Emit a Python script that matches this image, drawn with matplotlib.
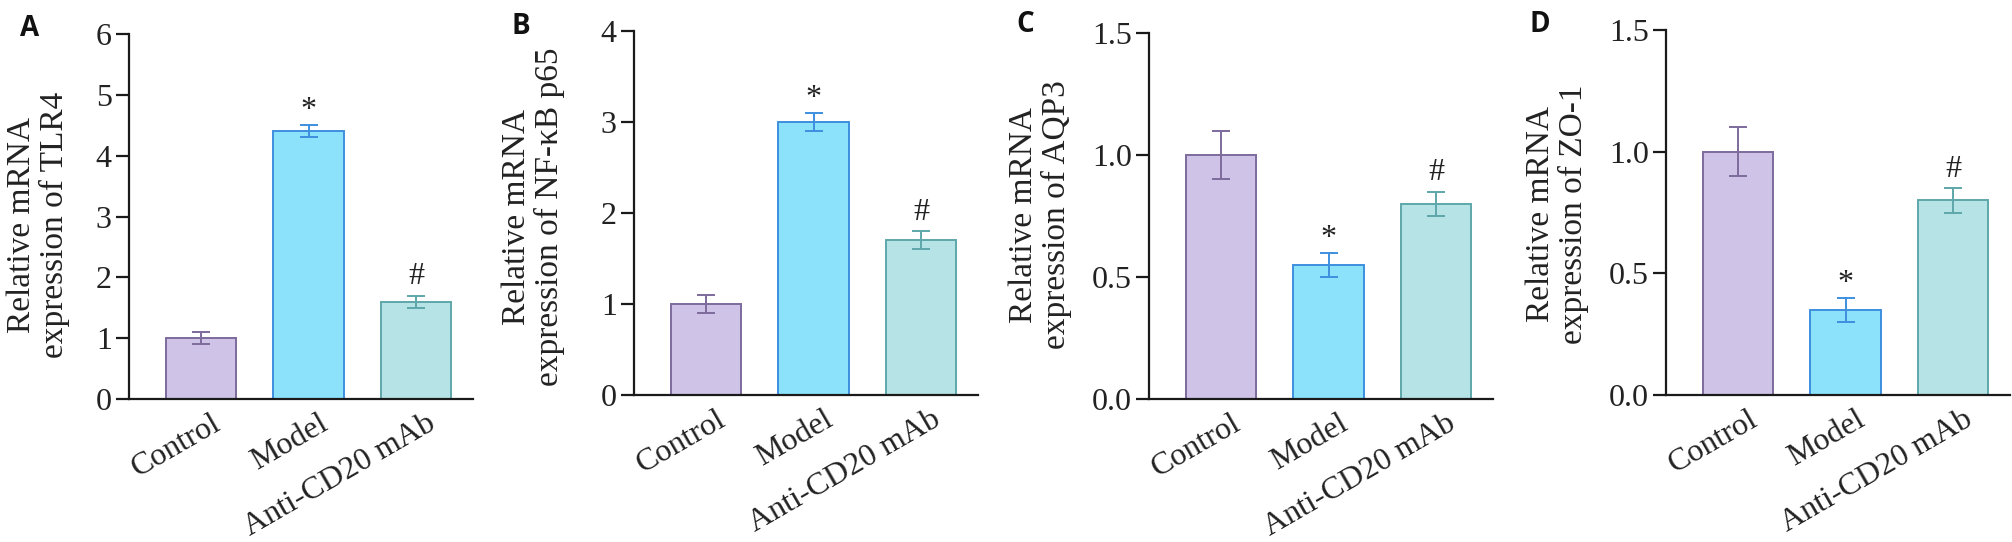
import matplotlib
matplotlib.use("Agg")
import matplotlib.pyplot as plt
from matplotlib.ticker import FormatStrFormatter, MultipleLocator
from matplotlib.transforms import ScaledTranslation

groups = ["Control", "Model", "Anti-CD20 mAb"]

tlr4_mean = [1.0, 4.4, 1.6]
tlr4_err = [0.1, 0.1, 0.1]
nfkb_mean = [1.0, 3.0, 1.7]
nfkb_err = [0.1, 0.1, 0.1]
aqp3_mean = [1.0, 0.55, 0.8]
aqp3_err = [0.1, 0.05, 0.05]
zo1_mean = [1.0, 0.35, 0.8]
zo1_err = [0.1, 0.05, 0.05]

marks = ["", "*", "#"]

fill_cols = ["#cfc4e7", "#8ce1fb", "#b6e3e5"]
edge_cols = ["#7d6b9c", "#3d8fe0", "#5ea7aa"]

W, H = 2012, 542
fig = plt.figure(figsize=(W / 100, H / 100), dpi=100)
plt.rcParams['font.family'] = ['Liberation Serif', 'DejaVu Serif']

# panel: letter, ylabel, means, errs, ymax, step, fmt, axis x px, top px, base px, label centre px, letter px
panels = [
    ("A", "Relative mRNA\nexpression of TLR4", tlr4_mean, tlr4_err, 6, 1, '%d',
     129, 34, 399, (38, 225), (30, 28)),
    ("B", "Relative mRNA\nexpression of NF-\u03baB p65", nfkb_mean, nfkb_err, 4, 1, '%d',
     634, 31, 395, (533, 217), (521, 26)),
    ("C", "Relative mRNA\nexpression of AQP3", aqp3_mean, aqp3_err, 1.5, 0.5, '%.1f',
     1149, 33, 399, (1040, 215), (1025, 24)),
    ("D", "Relative mRNA\nexpression of ZO-1", zo1_mean, zo1_err, 1.5, 0.5, '%.1f',
     1666, 30, 395, (1557, 214), (1540, 24)),
]
axw = 344

for letter, ylab, mean, err, ymax, step, fmt, x0, top, base, lab_c, let_c in panels:
    ax = fig.add_axes([x0 / W, (H - base) / H, axw / W, (base - top) / H])
    x = list(range(len(groups)))
    ax.bar(x, mean, width=0.655, color=fill_cols, edgecolor=edge_cols,
           linewidth=1.4, zorder=2)
    for i in x:
        ax.errorbar(i, mean[i], yerr=err[i], fmt='none', ecolor=edge_cols[i],
                    elinewidth=1.4, capsize=6.5, capthick=1.4, zorder=3)
        if marks[i]:
            off = 5 if marks[i] == "*" else 8
            ax.annotate(marks[i], (i, mean[i] + err[i]), xytext=(0, off),
                        textcoords='offset points', ha='center', va='baseline',
                        fontsize=23, color='#222222')
    ax.set_xlim(-0.67, 2.53)
    ax.set_ylim(0, ymax)
    ax.yaxis.set_major_locator(MultipleLocator(step))
    ax.yaxis.set_major_formatter(FormatStrFormatter(fmt))
    for s in ['top', 'right']:
        ax.spines[s].set_visible(False)
    for s in ['left', 'bottom']:
        ax.spines[s].set_linewidth(1.6)
        ax.spines[s].set_color('#1a1a1a')
    ax.tick_params(axis='y', length=9.5, width=1.6, pad=3, labelsize=23,
                   color='#1a1a1a', labelcolor='#222222')
    ax.tick_params(axis='x', length=0, pad=7, labelsize=23, labelcolor='#222222')
    ax.set_xticks(x)
    ax.set_xticklabels(groups, rotation=30, ha='right', va='top',
                       rotation_mode='anchor')
    shift = ScaledTranslation(10 / 100, 0, fig.dpi_scale_trans)
    for t in ax.get_xticklabels():
        t.set_transform(t.get_transform() + shift)
    ax.set_ylabel(ylab, fontsize=24, color='#222222', linespacing=1.1)
    ax.yaxis.label.set_va('center')
    ax.yaxis.set_label_coords((lab_c[0] - x0) / axw, (base - lab_c[1]) / (base - top))
    fig.text(let_c[0] / W, 1 - let_c[1] / H, letter, family='Open Sans',
             fontweight='bold', fontsize=20, ha='center', va='center', color='#111111')

fig.savefig("out.png", dpi=100)
